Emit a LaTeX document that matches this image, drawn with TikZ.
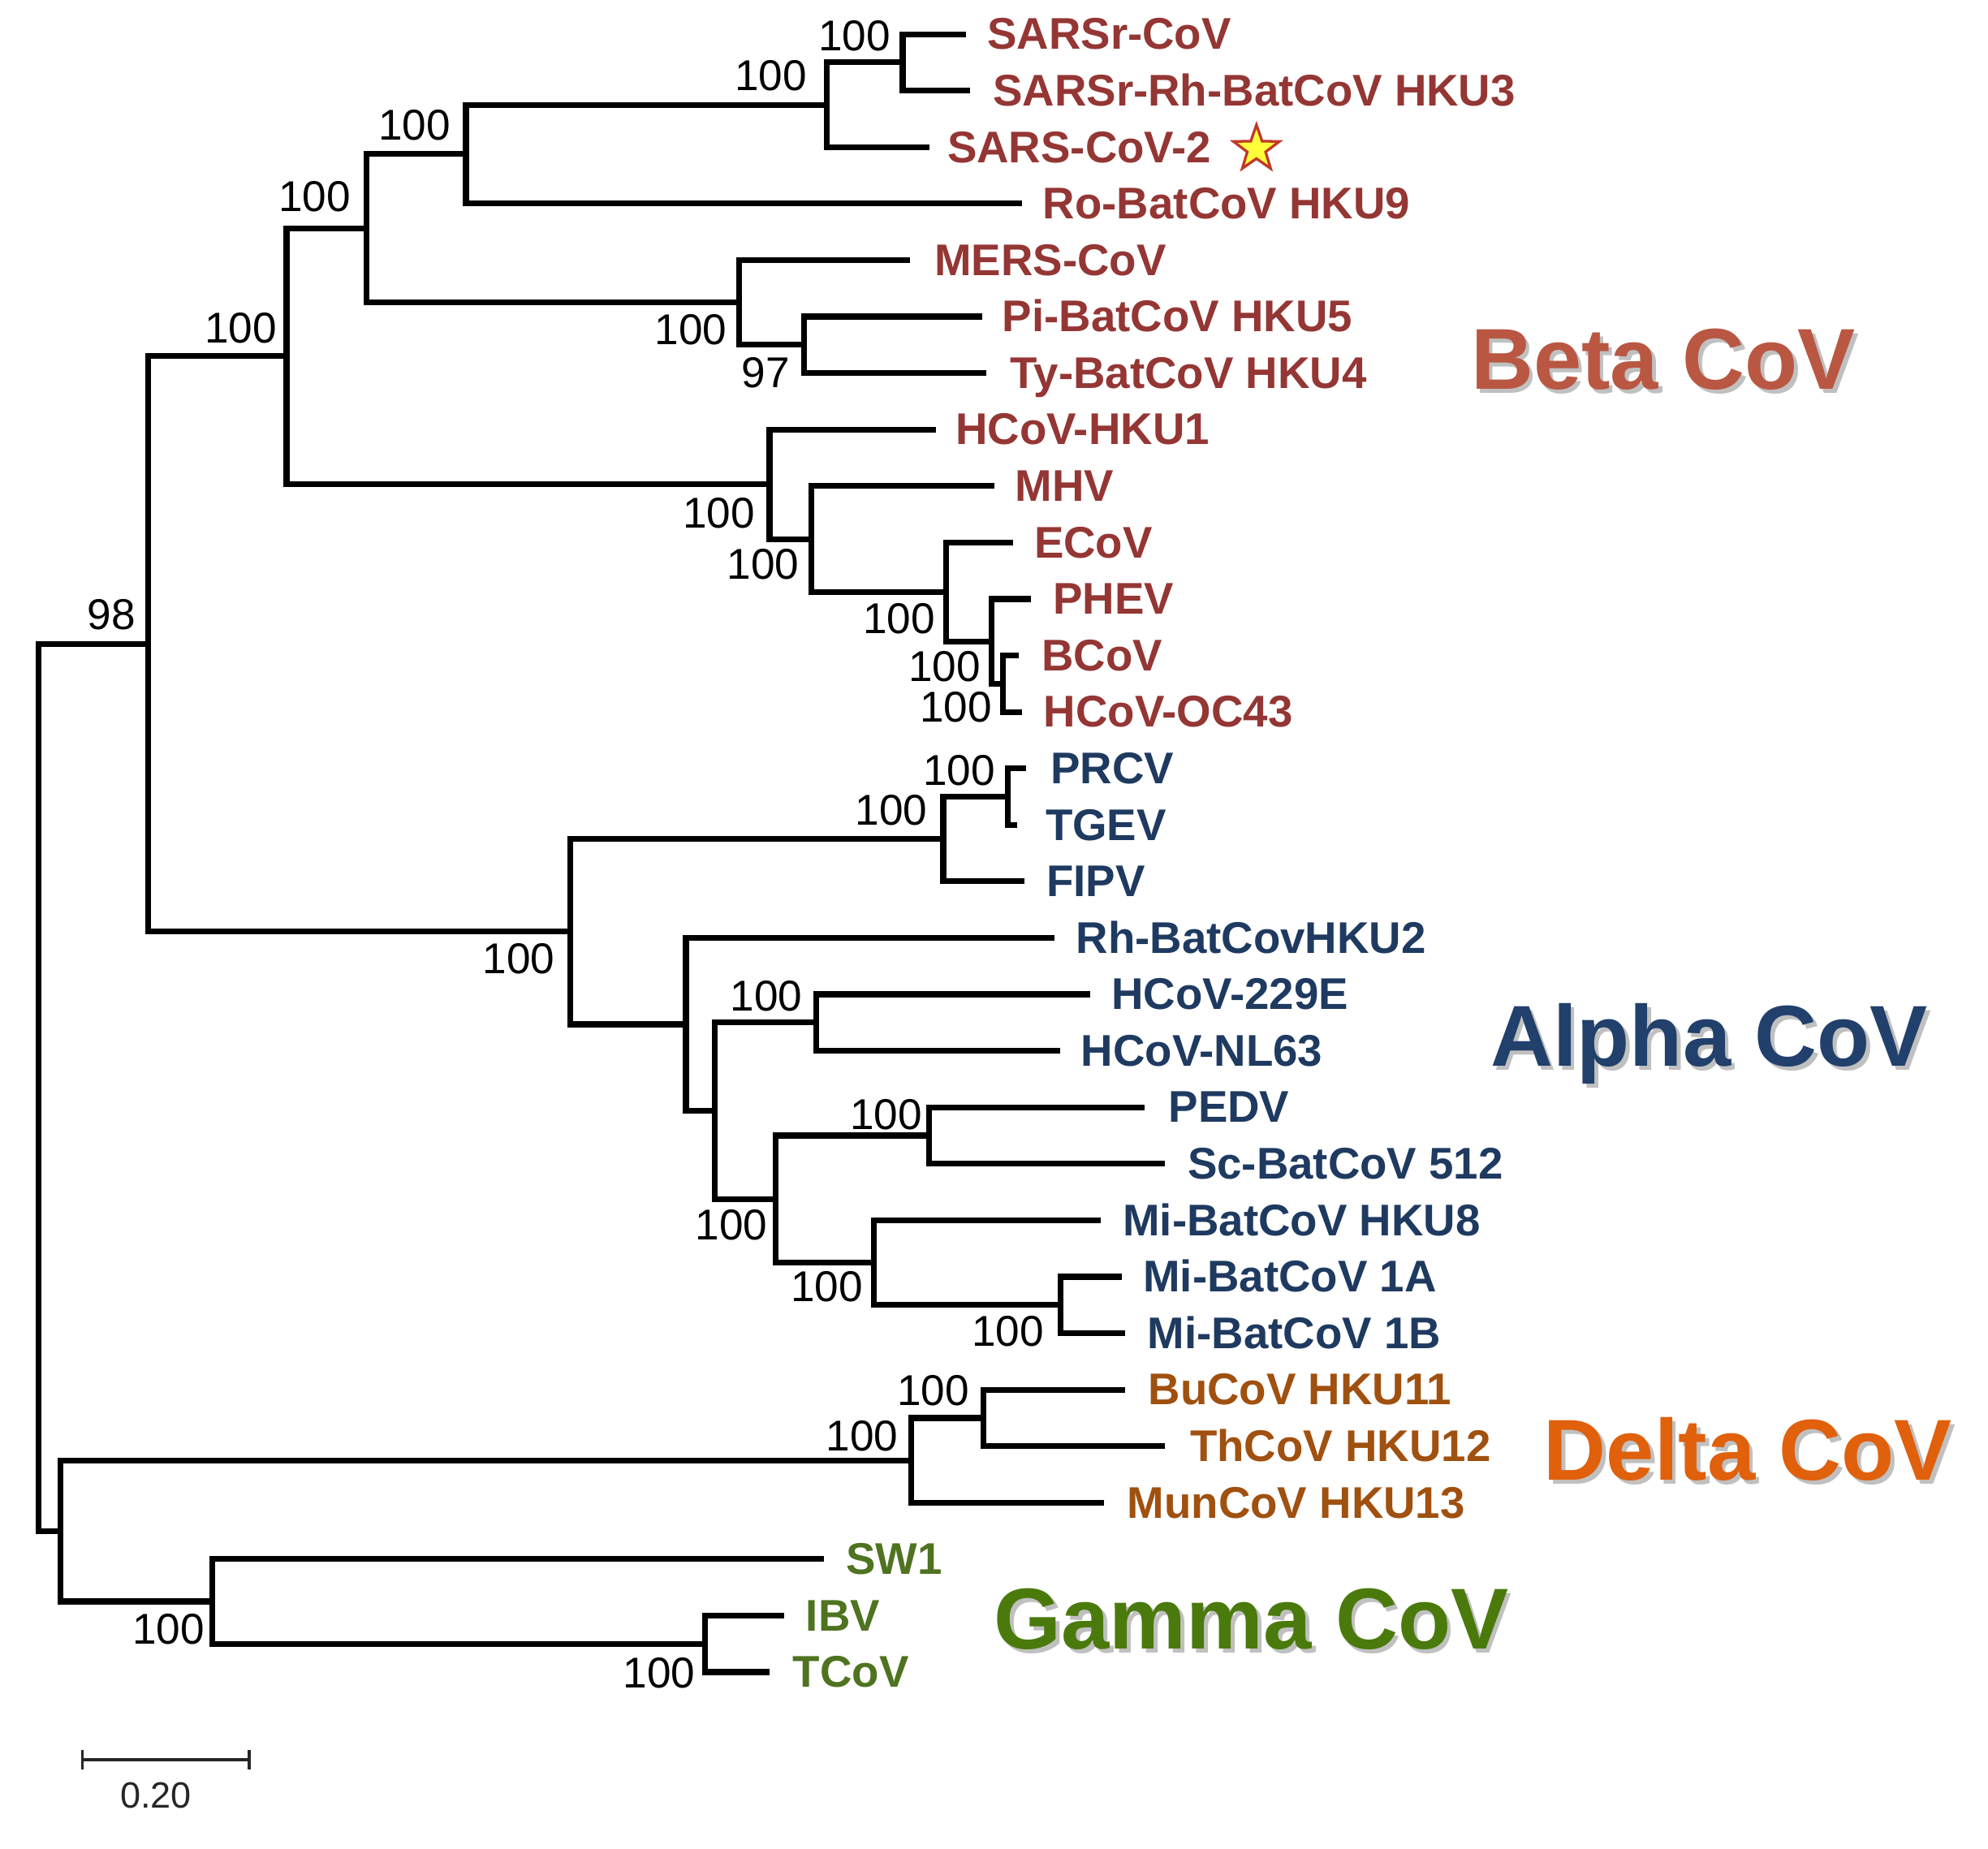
\documentclass[tikz,border=0pt]{standalone}
\usepackage{fontspec}
\setmainfont{Liberation Sans}
\usetikzlibrary{shapes.geometric,calc}
\definecolor{betaleaf}{HTML}{943634}
\definecolor{alphaleaf}{HTML}{1F3A60}
\definecolor{deltaleaf}{HTML}{A0500F}
\definecolor{gammaleaf}{HTML}{4F7320}
\definecolor{betagroup}{HTML}{B95743}
\definecolor{alphagroup}{HTML}{21406B}
\definecolor{deltagroup}{HTML}{E0600C}
\definecolor{gammagroup}{HTML}{4A7A0C}
\definecolor{staryellow}{HTML}{FFFF3A}
\definecolor{staredge}{HTML}{C0392B}
\tikzset{
  branch/.style={line width=1.3pt, black},
  leaflab/.style={anchor=base west, inner sep=0pt, font=\fontsize{9.95pt}{11pt}\selectfont\bfseries},
  betalab/.style={leaflab, text=betaleaf},
  alphalab/.style={leaflab, text=alphaleaf},
  deltalab/.style={leaflab, text=deltaleaf},
  gammalab/.style={leaflab, text=gammaleaf},
  boot/.style={anchor=center, inner sep=0pt, font=\fontsize{9.67pt}{11pt}\selectfont},
  grouplab/.style={anchor=base west, inner sep=0pt, font=\fontsize{19.4pt}{22pt}\selectfont\bfseries},
  groupshadow/.style={grouplab, text=black!45, opacity=0.55},
  scalebar/.style={line width=0.6pt, black!85}
}
\begin{document}
\begin{tikzpicture}[x=0.01cm, y=-0.01cm]
\useasboundingbox (0,0) rectangle (1568,1458);
% internal nodes
\coordinate (root) at (30.6,857.8);
\coordinate (nBA) at (117,508);
\coordinate (nB2) at (226,281);
\coordinate (nB1) at (289,180.1);
\coordinate (nB0) at (367.5,121.6);
\coordinate (nS2) at (652,82.7);
\coordinate (nS1) at (712,49.25);
\coordinate (nM) at (583,238.6);
\coordinate (nPT) at (634,272);
\coordinate (nH1) at (607,382);
\coordinate (nMH) at (640,425.2);
\coordinate (nE) at (746,466.9);
\coordinate (nPH) at (782,505.9);
\coordinate (nBO) at (791,539.3);
\coordinate (nA) at (450,734.9);
\coordinate (nF) at (744,661.8);
\coordinate (nPT2) at (795,628.4);
\coordinate (nR) at (541,808);
\coordinate (nC) at (564,876.2);
\coordinate (nHN) at (644,806.6);
\coordinate (nP) at (612,945.8);
\coordinate (nPS) at (733,895.7);
\coordinate (nK8) at (689,996);
\coordinate (n1AB) at (836.5,1029.4);
\coordinate (nDG) at (47.5,1207.6);
\coordinate (nD) at (718.5,1151.9);
\coordinate (nBT) at (775.7,1118.5);
\coordinate (nG) at (167.4,1263.2);
\coordinate (nIT) at (556,1296.7);
% leaf ends
\coordinate (l0) at (762,27.0);
\coordinate (l1) at (765,71.55);
\coordinate (l2) at (733,116.1);
\coordinate (l3) at (806,160.65);
\coordinate (l4) at (718,205.2);
\coordinate (l5) at (775,249.75);
\coordinate (l6) at (778,294.3);
\coordinate (l7) at (738,338.85);
\coordinate (l8) at (784,383.4);
\coordinate (l9) at (799,427.95);
\coordinate (l10) at (813,472.5);
\coordinate (l11) at (803.5,517.05);
\coordinate (l12) at (806,561.6);
\coordinate (l13) at (809,606.15);
\coordinate (l14) at (802,650.7);
\coordinate (l15) at (808,695.25);
\coordinate (l16) at (832,739.8);
\coordinate (l17) at (860,784.35);
\coordinate (l18) at (836,828.9);
\coordinate (l19) at (903,873.45);
\coordinate (l20) at (919,918.0);
\coordinate (l21) at (868,962.55);
\coordinate (l22) at (885,1007.1);
\coordinate (l23) at (887.7,1051.65);
\coordinate (l24) at (887.7,1096.2);
\coordinate (l25) at (919,1140.75);
\coordinate (l26) at (871,1185.3);
\coordinate (l27) at (649.6,1229.85);
\coordinate (l28) at (618.5,1274.4);
\coordinate (l29) at (607,1318.95);
% branches
\foreach \p/\c in {root/nBA, root/nDG, nBA/nB2, nBA/nA, nB2/nB1, nB2/nH1,
  nB1/nB0, nB1/nM, nB0/nS2, nB0/l3, nS2/nS1, nS2/l2, nS1/l0, nS1/l1,
  nM/l4, nM/nPT, nPT/l5, nPT/l6, nH1/l7, nH1/nMH, nMH/l8, nMH/nE,
  nE/l9, nE/nPH, nPH/l10, nPH/nBO, nBO/l11, nBO/l12,
  nA/nF, nA/nR, nF/nPT2, nF/l15, nPT2/l13, nPT2/l14,
  nR/l16, nR/nC, nC/nHN, nC/nP, nHN/l17, nHN/l18,
  nP/nPS, nP/nK8, nPS/l19, nPS/l20, nK8/l21, nK8/n1AB, n1AB/l22, n1AB/l23,
  nDG/nD, nDG/nG, nD/nBT, nD/l26, nBT/l24, nBT/l25,
  nG/l27, nG/nIT, nIT/l28, nIT/l29}
  \draw[branch] (\p) |- (\c);
% leaf labels
\node[betalab] (t0) at (778,39) {SARSr-CoV};
\node[betalab] (t1) at (782.5,83.55) {SARSr-Rh-BatCoV HKU3};
\node[betalab] (t2) at (746.5,128.1) {SARS-CoV-2};
\node[betalab] (t3) at (822,172.65) {Ro-BatCoV HKU9};
\node[betalab] (t4) at (736.5,217.2) {MERS-CoV};
\node[betalab] (t5) at (790,261.75) {Pi-BatCoV HKU5};
\node[betalab] (t6) at (796,306.3) {Ty-BatCoV HKU4};
\node[betalab] (t7) at (753,350.85) {HCoV-HKU1};
\node[betalab] (t8) at (800,395.4) {MHV};
\node[betalab] (t9) at (815,439.95) {ECoV};
\node[betalab] (t10) at (830,484.5) {PHEV};
\node[betalab] (t11) at (821,529.05) {BCoV};
\node[betalab] (t12) at (822.6,573.6) {HCoV-OC43};
\node[alphalab] (t13) at (828,618.15) {PRCV};
\node[alphalab] (t14) at (824,662.7) {TGEV};
\node[alphalab] (t15) at (824.6,707.25) {FIPV};
\node[alphalab] (t16) at (848,751.8) {Rh-BatCovHKU2};
\node[alphalab] (t17) at (876,796.35) {HCoV-229E};
\node[alphalab] (t18) at (852,840.9) {HCoV-NL63};
\node[alphalab] (t19) at (921,885.45) {PEDV};
\node[alphalab] (t20) at (936,930.0) {Sc-BatCoV 512};
\node[alphalab] (t21) at (885,974.55) {Mi-BatCoV HKU8};
\node[alphalab] (t22) at (901,1019.1) {Mi-BatCoV 1A};
\node[alphalab] (t23) at (904.4,1063.65) {Mi-BatCoV 1B};
\node[deltalab] (t24) at (905,1108.2) {BuCoV HKU11};
\node[deltalab] (t25) at (938,1152.75) {ThCoV HKU12};
\node[deltalab] (t26) at (888.5,1197.3) {MunCoV HKU13};
\node[gammalab] (t27) at (666.5,1241.85) {SW1};
\node[gammalab] (t28) at (635,1286.4) {IBV};
\node[gammalab] (t29) at (624.7,1330.95) {TCoV};
% star
\node[star, star points=5, star point ratio=2.5, minimum size=0.38cm, inner sep=0pt,
  fill=staryellow, draw=staredge, line width=0.6pt] (star) at (991,117.5) {};
% bootstrap values
\node[boot] (b1) at (674,28) {100};
\node[boot] (b2) at (608,60) {100};
\node[boot] (b3) at (327,99) {100};
\node[boot] (b4) at (248,155) {100};
\node[boot] (b5) at (190,259) {100};
\node[boot] (b6) at (88,485) {98};
\node[boot] (b7) at (545,260) {100};
\node[boot] (b8) at (604,294) {97};
\node[boot] (b9) at (567,405) {100};
\node[boot] (b10) at (602,445) {100};
\node[boot] (b11) at (709,488) {100};
\node[boot] (b12) at (745,526) {100};
\node[boot] (b13) at (754,558) {100};
\node[boot] (b14) at (756.5,608) {100};
\node[boot] (b15) at (703,639) {100};
\node[boot] (b16) at (409,756) {100};
\node[boot] (b17) at (604.5,786) {100};
\node[boot] (b18) at (699,879) {100};
\node[boot] (b19) at (577,966) {100};
\node[boot] (b20) at (652,1015) {100};
\node[boot] (b21) at (795,1050) {100};
\node[boot] (b22) at (736,1097) {100};
\node[boot] (b23) at (680,1133) {100};
\node[boot] (b24) at (133,1285) {100};
\node[boot] (b25) at (520,1320) {100};
% group labels with shadow
\node[groupshadow] (gbs) at (1162.5,310) {Beta CoV};
\node[grouplab, text=betagroup] (gb) at (1159.5,307) {Beta CoV};
\node[groupshadow] (gas) at (1178,844) {Alpha CoV};
\node[grouplab, text=alphagroup] (ga) at (1175,841) {Alpha CoV};
\node[groupshadow] (gds) at (1220,1170.5) {Delta CoV};
\node[grouplab, text=deltagroup] (gd) at (1217,1167.5) {Delta CoV};
\node[groupshadow] (ggs) at (786.5,1304) {Gamma CoV};
\node[grouplab, text=gammagroup] (gg) at (783.5,1301) {Gamma CoV};
% scale bar
\coordinate (sbL) at (64.8,1388);
\coordinate (sbR) at (196.5,1388);
\draw[scalebar] (sbL) -- (sbR);
\draw[scalebar] ($(sbL)+(0,-7.5)$) -- ($(sbL)+(0,7.5)$);
\draw[scalebar] ($(sbR)+(0,-7.5)$) -- ($(sbR)+(0,7.5)$);
\node[inner sep=0pt, font=\fontsize{8.2pt}{9pt}\selectfont, text=black!85] (sbt) at (123,1416) {0.20};
\end{tikzpicture}
\end{document}
